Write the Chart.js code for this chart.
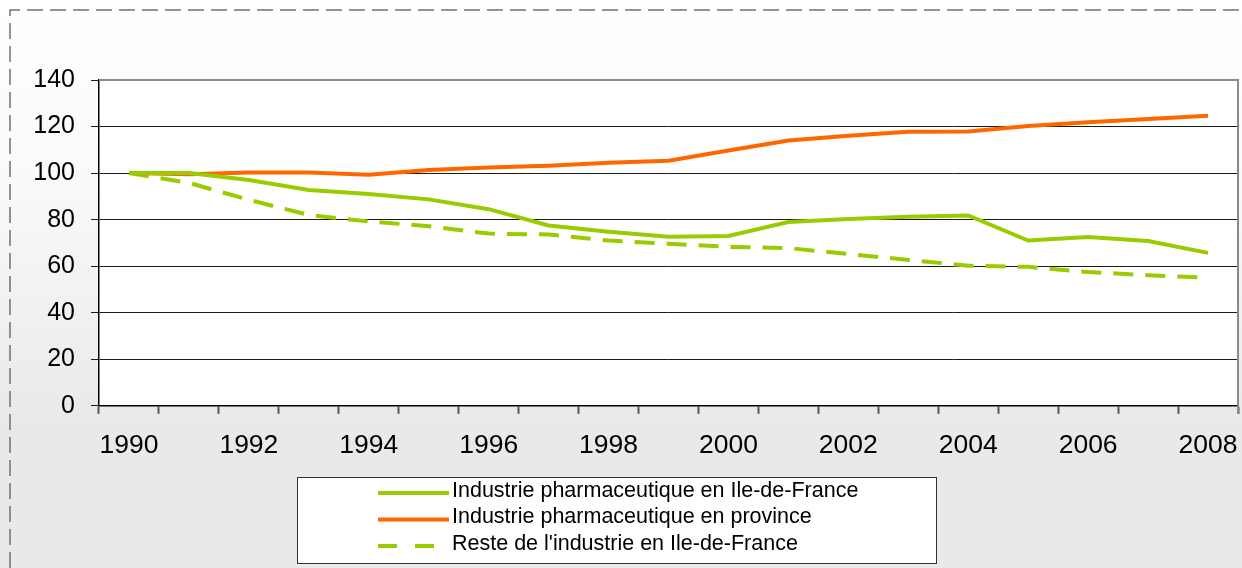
<!DOCTYPE html>
<html>
<head>
<meta charset="utf-8">
<script src="https://cdn.jsdelivr.net/npm/chart.js@4.4.1/dist/chart.umd.min.js"></script>
<style>
  body { margin: 0; background: #ffffff; }
  canvas { display: block; }
</style>
</head>
<body>
<canvas id="myChart" width="1242" height="568"></canvas>
<script>
let years = ["1990", "1991", "1992", "1993", "1994", "1995", "1996", "1997", "1998", "1999",
  "2000", "2001", "2002", "2003", "2004", "2005", "2006", "2007", "2008"];

let pharmaIdf = [100, 100, 97, 92.7, 91, 88.7, 84.5, 77.5, 74.8, 72.6,
  73, 79, 80.3, 81.2, 81.8, 71, 72.5, 70.8, 65.7];
let pharmaProvince = [100, 99.5, 100.2, 100.2, 99.3, 101.3, 102.4, 103.2, 104.4, 105.3,
  109.7, 114, 116, 117.8, 117.9, 120.2, 121.8, 123.2, 124.6];
let resteIdf = [100, 95.8, 88.5, 82, 79.2, 77.2, 74, 73.6, 71, 69.6,
  68.3, 67.8, 65.2, 62.7, 60.2, 59.7, 57.5, 56.1, 55];

let green = "#99cc00";
let orange = "#ff6600";
let font = "'Liberation Sans', Arial, sans-serif";

// background, dashed frame and plot area
const backdrop = {
  id: "backdrop",
  beforeDraw(chart) {
    const ctx = chart.ctx;
    const a = chart.chartArea;
    ctx.save();
    const g = ctx.createLinearGradient(0, 0, 0, chart.height);
    g.addColorStop(0, "#ffffff");
    g.addColorStop(0.3, "#fafafa");
    g.addColorStop(0.75, "#e9e9e9");
    g.addColorStop(1, "#e9e9e9");
    ctx.fillStyle = g;
    ctx.fillRect(0, 0, chart.width, chart.height);
    ctx.fillStyle = "#ffffff";
    ctx.fillRect(a.left, a.top, a.right - a.left, a.bottom - a.top);
    ctx.strokeStyle = "#707070";
    ctx.lineWidth = 1.5;
    ctx.setLineDash([16, 7]);
    ctx.beginPath();
    ctx.moveTo(10, chart.height);
    ctx.lineTo(10, 10);
    ctx.lineTo(chart.width, 10);
    ctx.stroke();
    ctx.restore();
  },
  afterDraw(chart) {
    const ctx = chart.ctx;
    const a = chart.chartArea;
    ctx.save();
    ctx.strokeStyle = "#8a8a8a";
    ctx.lineWidth = 2;
    ctx.beginPath();
    ctx.moveTo(a.left, a.top);
    ctx.lineTo(a.right, a.top);
    ctx.lineTo(a.right, a.bottom + 8);
    ctx.stroke();
    ctx.restore();
  },
};

// boxed legend under the chart
const boxLegend = {
  id: "boxLegend",
  afterDraw(chart) {
    const ctx = chart.ctx;
    ctx.save();
    ctx.fillStyle = "#ffffff";
    ctx.fillRect(297, 477, 639, 86);
    ctx.strokeStyle = "#333333";
    ctx.lineWidth = 1;
    ctx.strokeRect(297.5, 477.5, 639, 86);
    ctx.font = "21.5px " + font;
    ctx.textBaseline = "middle";
    ctx.fillStyle = "#000000";
    chart.data.datasets.forEach((ds, i) => {
      const y = 491 + i * 26.5;
      ctx.strokeStyle = ds.borderColor;
      ctx.lineWidth = 4;
      ctx.setLineDash(ds.borderDash ? [19, 18] : []);
      ctx.beginPath();
      ctx.moveTo(378, y + 2);
      ctx.lineTo(449, y + 2);
      ctx.stroke();
      ctx.setLineDash([]);
      ctx.fillText(ds.label, 452, y);
    });
    ctx.restore();
  },
};

const data = {
  labels: [...years],
  datasets: [
    {
      label: "Industrie pharmaceutique en Ile-de-France",
      data: pharmaIdf,
      borderColor: green,
      backgroundColor: green,
      borderWidth: 4,
    },
    {
      label: "Industrie pharmaceutique en province",
      data: pharmaProvince,
      borderColor: orange,
      backgroundColor: orange,
      borderWidth: 4,
    },
    {
      label: "Reste de l'industrie en Ile-de-France",
      data: resteIdf,
      borderColor: green,
      backgroundColor: green,
      borderWidth: 4,
      borderDash: [20, 12],
    },
  ],
};

const config = {
  type: "line",
  data: data,
  options: {
    responsive: false,
    maintainAspectRatio: false,
    animation: false,
    layout: { padding: { top: 80, right: 4, left: 0, bottom: 0 } },
    elements: {
      point: { radius: 0 },
      line: { tension: 0, borderCapStyle: "butt" },
    },
    plugins: {
      legend: { display: false },
      tooltip: { enabled: false },
    },
    scales: {
      x: {
        offset: true,
        grid: {
          offset: true,
          drawOnChartArea: false,
          drawTicks: true,
          tickLength: 8,
          color: "#555555",
          tickWidth: 2,
        },
        border: { color: "#000000", width: 1.5 },
        ticks: {
          autoSkip: false,
          maxRotation: 0,
          padding: 16,
          color: "#000000",
          font: { family: font, size: 26.5 },
          callback: function (value, index) {
            return index % 2 === 0 ? this.getLabelForValue(value) : "";
          },
        },
        afterFit: function (scale) {
          scale.height = 162.2;
          scale.paddingLeft = 0;
          scale.paddingRight = 0;
        },
      },
      y: {
        min: 0,
        max: 140,
        grid: {
          color: "#1a1a1a",
          lineWidth: 1,
          tickLength: 8,
        },
        border: { color: "#000000", width: 1.5 },
        ticks: {
          stepSize: 20,
          padding: 16,
          color: "#000000",
          font: { family: font, size: 25 },
        },
        afterFit: function (scale) {
          scale.width = 99;
        },
      },
    },
  },
  plugins: [backdrop, boxLegend],
};

var myChart = new Chart(document.getElementById("myChart"), config);
</script>
</body>
</html>
